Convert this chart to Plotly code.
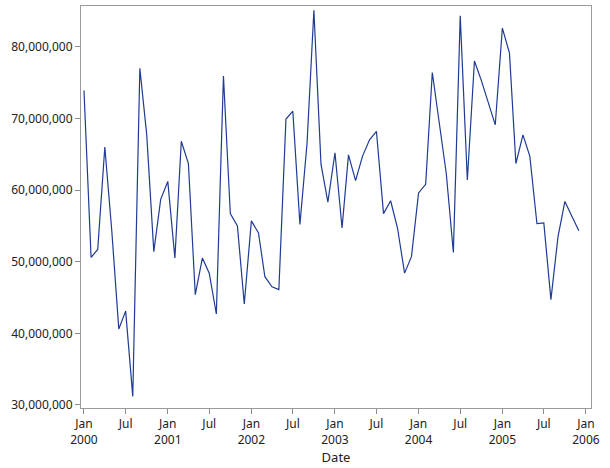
import pandas as pd
import plotly.graph_objects as go

dates = pd.date_range("2000-01-01", periods=72, freq="MS")
values_m = [
    73.9, 50.6, 51.7, 66.0, 54.5, 40.6, 43.1, 31.2, 77.0, 67.7, 51.4, 58.7,
    61.2, 50.5, 66.8, 63.7, 45.4, 50.5, 48.4, 42.7, 75.9, 56.7, 55.0, 44.1,
    55.7, 54.0, 47.9, 46.5, 46.1, 69.9, 71.0, 55.2, 66.5, 85.1, 63.6, 58.3,
    65.2, 54.7, 64.9, 61.3, 64.7, 67.0, 68.2, 56.7, 58.5, 54.7, 48.4, 50.7,
    59.6, 60.8, 76.4, 69.5, 62.3, 51.3, 84.3, 61.4, 78.0, 75.3, 72.2, 69.1,
    82.6, 79.1, 63.7, 67.7, 64.7, 55.3, 55.4, 44.7, 53.5, 58.4, 56.3, 54.3,
]
values = [v * 1_000_000 for v in values_m]

tick_dates = ["2000-01-01", "2000-07-01", "2001-01-01", "2001-07-01", "2002-01-01",
              "2002-07-01", "2003-01-01", "2003-07-01", "2004-01-01", "2004-07-01",
              "2005-01-01", "2005-07-01", "2006-01-01"]
tick_labels = ["Jan<br>2000", "Jul", "Jan<br>2001", "Jul", "Jan<br>2002", "Jul",
               "Jan<br>2003", "Jul", "Jan<br>2004", "Jul", "Jan<br>2005", "Jul",
               "Jan<br>2006"]
y_ticks = [30_000_000, 40_000_000, 50_000_000, 60_000_000, 70_000_000, 80_000_000]

fig = go.Figure()
fig.add_trace(go.Scatter(
    x=dates, y=values, mode="lines",
    line=dict(color="#1f3b94", width=1.2),
    showlegend=False,
))

fig.update_layout(
    width=610, height=468,
    margin=dict(l=81, r=19, t=6, b=60),
    paper_bgcolor="white", plot_bgcolor="white",
    font=dict(family="Noto Sans, Open Sans, sans-serif", size=12, color="#222222"),
)
fig.update_xaxes(
    range=["1999-12-19", "2006-01-23"],
    tickmode="array", tickvals=tick_dates, ticktext=tick_labels,
    ticks="outside", ticklen=5, tickcolor="#8c8c8c",
    showgrid=False, zeroline=False,
    showline=True, linecolor="#9a9a9a", linewidth=1, mirror=True,
    title=dict(text="Date", font=dict(size=13), standoff=4),
)
fig.update_yaxes(
    range=[29_580_000, 85_680_000],
    tickmode="array", tickvals=y_ticks, tickformat=",d",
    ticks="outside", ticklen=5, tickcolor="#8c8c8c",
    showgrid=False, zeroline=False,
    showline=True, linecolor="#9a9a9a", linewidth=1, mirror=True,
)

fig.write_html("out.html")
